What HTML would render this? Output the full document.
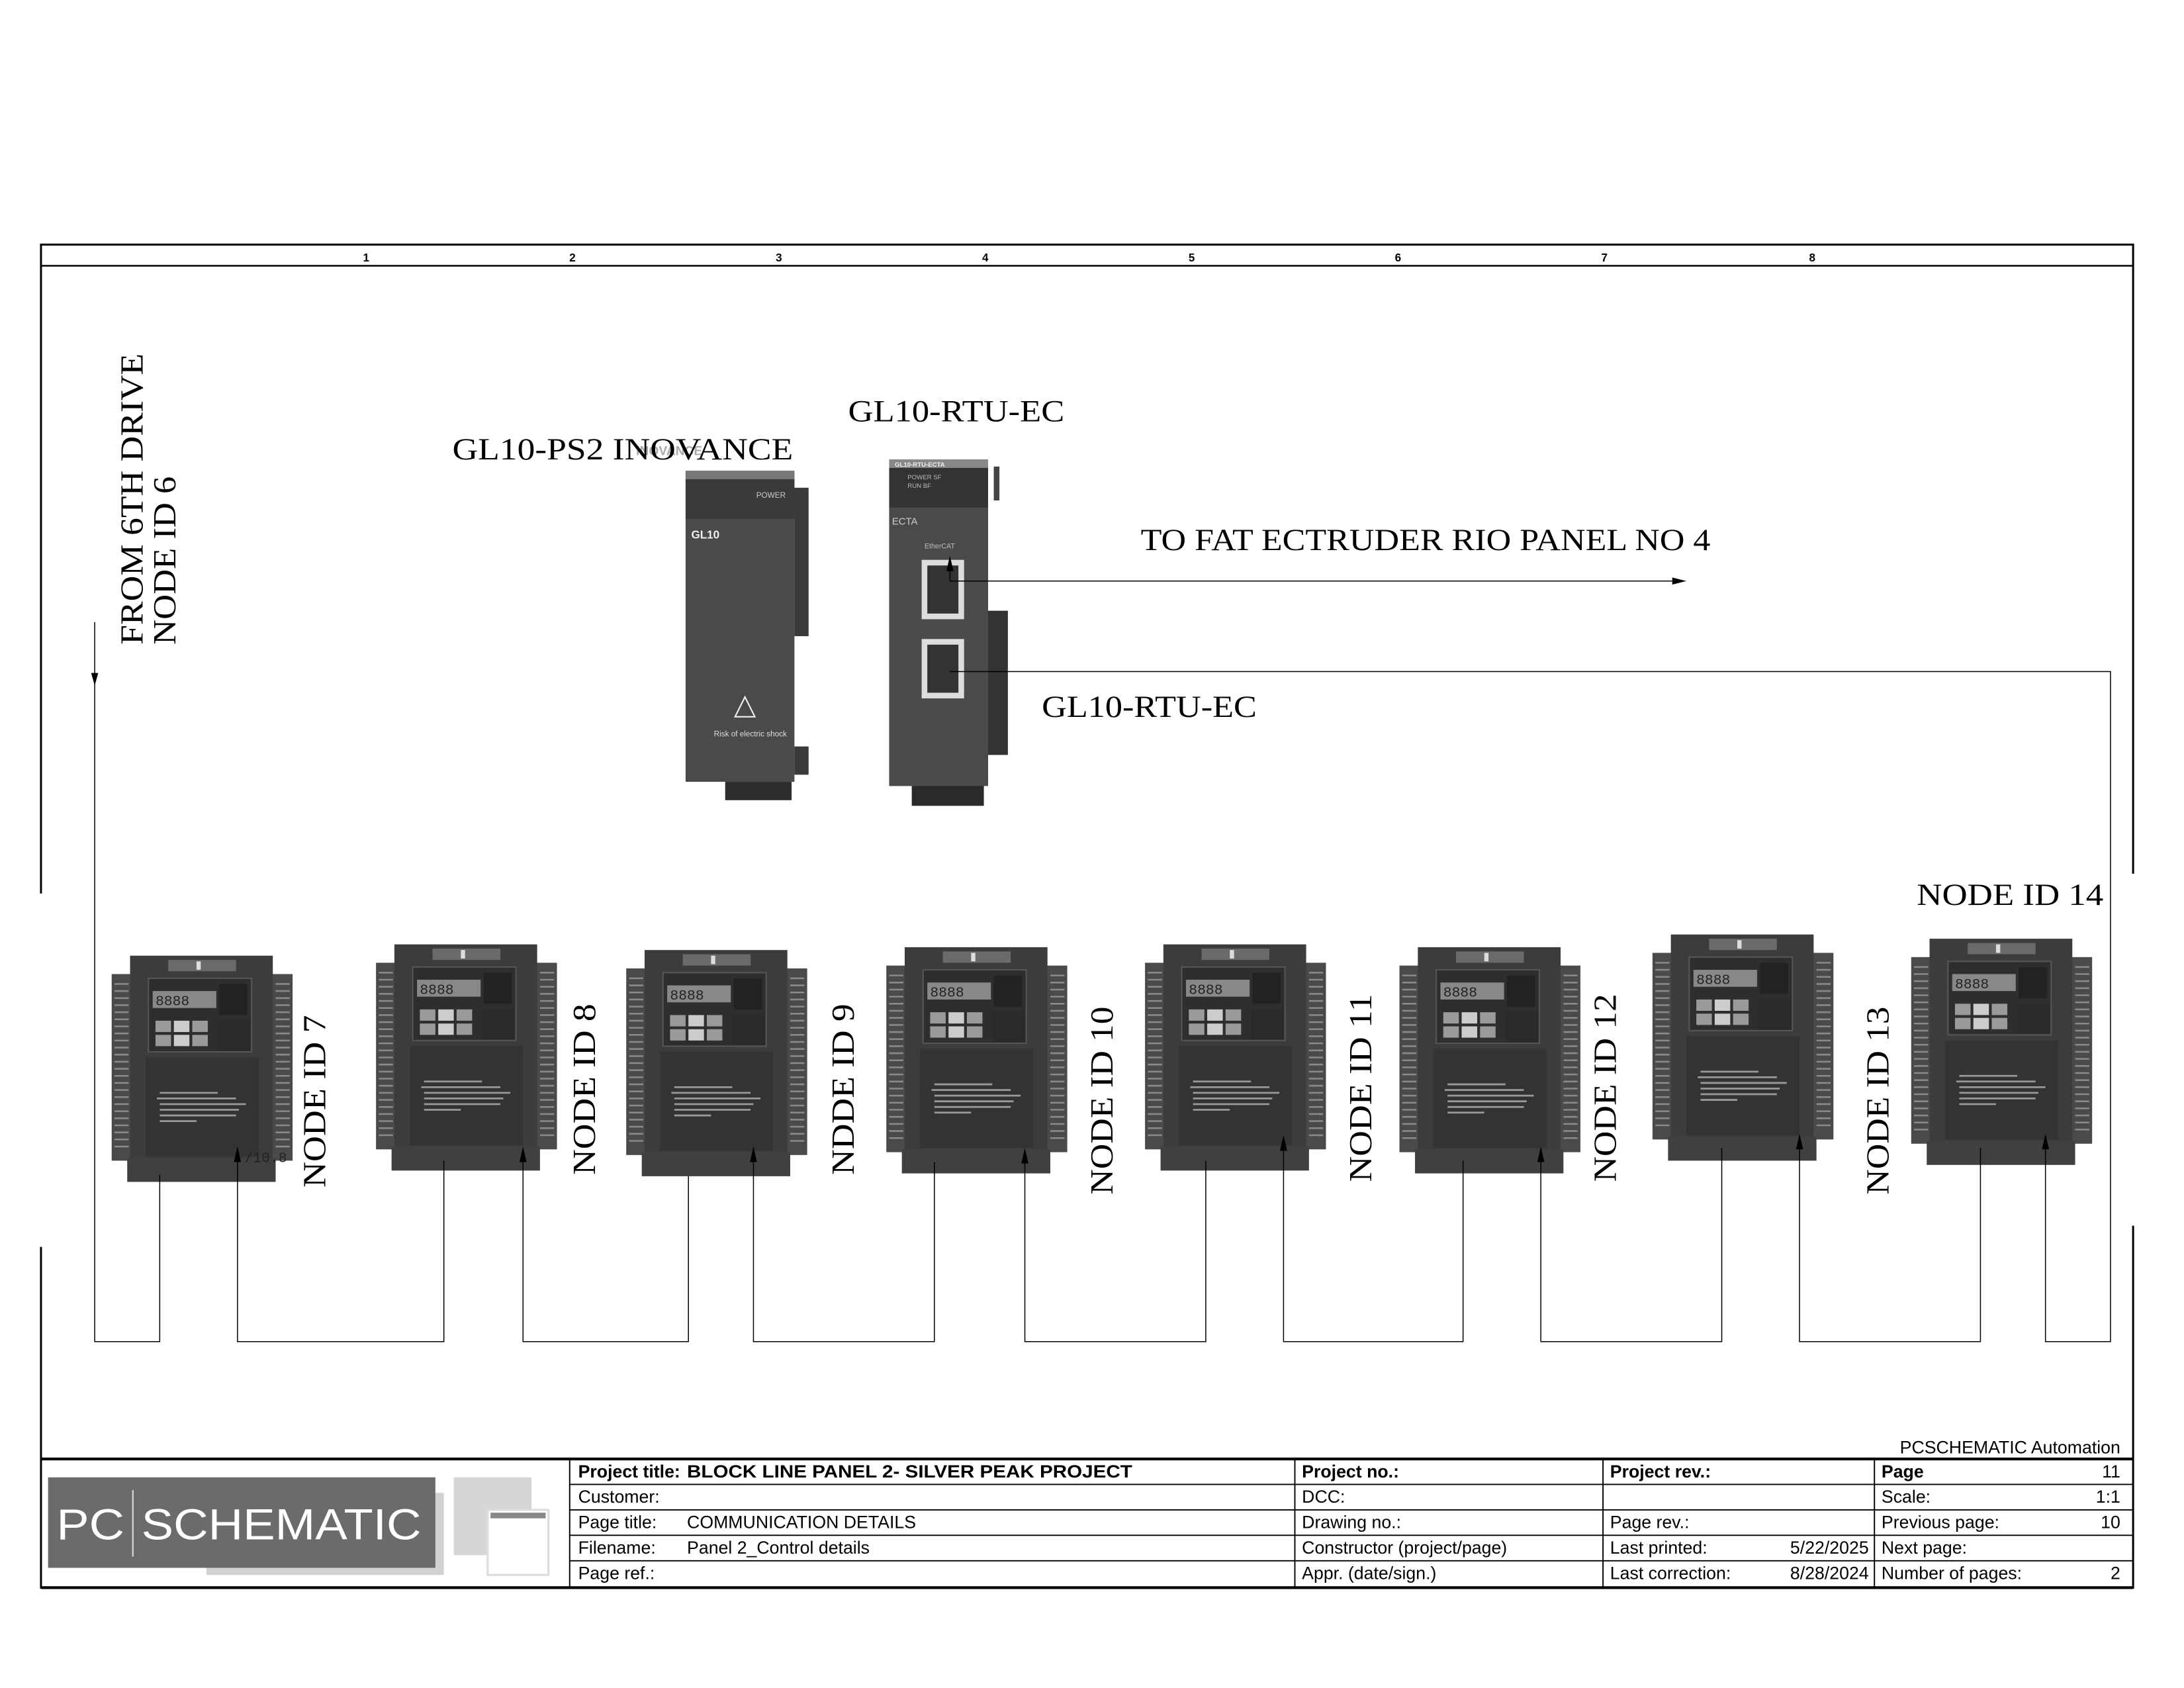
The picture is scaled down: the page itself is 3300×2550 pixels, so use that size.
<!DOCTYPE html>
<html><head><meta charset="utf-8"><style>
html,body{margin:0;padding:0;background:#fff}
svg{display:block}
.s{font-family:"Liberation Serif",serif;fill:#000}
.a{font-family:"Liberation Sans",sans-serif;fill:#000;font-size:12.5px}
.b{font-weight:bold}
</style></head><body>
<svg width="3300" height="2550" viewBox="0 0 1545 1194" preserveAspectRatio="none" xmlns="http://www.w3.org/2000/svg">
<defs>
<g id="drv">
  <rect x="0" y="13" width="128" height="132" fill="#4a4a4a"/>
  <g stroke="#8a8a8a" stroke-width="1.2">
    <path d="M2 20H12M2 25H12M2 30H12M2 35H12M2 40H12M2 45H12M2 50H12M2 55H12M2 60H12M2 65H12M2 70H12M2 75H12M2 80H12M2 85H12M2 90H12M2 95H12M2 100H12M2 105H12M2 110H12M2 115H12M2 120H12M2 125H12M2 130H12M2 135H12"/>
    <path d="M116 20H126M116 25H126M116 30H126M116 35H126M116 40H126M116 45H126M116 50H126M116 55H126M116 60H126M116 65H126M116 70H126M116 75H126M116 80H126M116 85H126M116 90H126M116 95H126M116 100H126M116 105H126M116 110H126M116 115H126M116 120H126M116 125H126M116 130H126M116 135H126"/>
  </g>
  <rect x="13" y="0" width="101" height="146" fill="#3c3c3c"/>
  <rect x="11" y="143" width="105" height="17" fill="#404040"/>
  <rect x="40" y="3" width="48" height="8" fill="#6a6a6a"/>
  <rect x="60" y="4" width="3" height="6" fill="#ddd"/>
  <rect x="26" y="16" width="73" height="52" fill="#2e2e2e" stroke="#555"/>
  <rect x="29" y="25" width="45" height="12" fill="#888"/>
  <text x="31" y="35" font-family="Liberation Mono,monospace" font-size="10" fill="#222">8888</text>
  <rect x="76" y="20" width="20" height="22" fill="#222"/>
  <rect x="31" y="46" width="11" height="8" fill="#9a9a9a"/><rect x="44" y="46" width="11" height="8" fill="#ccc"/><rect x="57" y="46" width="11" height="8" fill="#9a9a9a"/>
  <rect x="31" y="56" width="11" height="8" fill="#9a9a9a"/><rect x="44" y="56" width="11" height="8" fill="#ccc"/><rect x="57" y="56" width="11" height="8" fill="#9a9a9a"/>
  <rect x="75" y="46" width="23" height="21" fill="#2a2a2a"/>
  <rect x="24" y="72" width="80" height="70" fill="#333"/>
  <g stroke="#999" stroke-width="1.3">
    <path d="M34 97H75M32 101H88M34 105H95M34 109H90M34 113H88M34 117H60"/>
  </g>
</g>
</defs>

<!-- frame -->
<g fill="none" stroke="#000">
  <path d="M29 632V173H1509V618" stroke-width="1.4"/>
  <path d="M29 882V1123H1509V867" stroke-width="1.4"/>
  <line x1="29" y1="188" x2="1509" y2="188" stroke-width="1.2"/>
  <line x1="29" y1="1032" x2="1509" y2="1032" stroke-width="2"/>
  <line x1="29" y1="1123" x2="1509" y2="1123" stroke-width="2"/>
  <g stroke-width="0.9">
    <line x1="403" y1="1050" x2="1509" y2="1050"/>
    <line x1="403" y1="1068" x2="1509" y2="1068"/>
    <line x1="403" y1="1086" x2="1509" y2="1086"/>
    <line x1="403" y1="1104" x2="1509" y2="1104"/>
    <line x1="403" y1="1032" x2="403" y2="1123"/>
    <line x1="916" y1="1032" x2="916" y2="1123"/>
    <line x1="1134" y1="1032" x2="1134" y2="1123"/>
    <line x1="1326" y1="1032" x2="1326" y2="1123"/>
  </g>
</g>
<g font-family="Liberation Sans,sans-serif" font-size="8" font-weight="bold" text-anchor="middle">
  <text x="259" y="185">1</text><text x="405" y="185">2</text><text x="551" y="185">3</text><text x="697" y="185">4</text>
  <text x="843" y="185">5</text><text x="989" y="185">6</text><text x="1135" y="185">7</text><text x="1282" y="185">8</text>
</g>

<!-- title block -->
<rect x="146" y="1056" width="168" height="58" fill="#d2d2d2"/>
<rect x="321" y="1045" width="55" height="55" fill="#d6d6d6"/>
<rect x="345" y="1068" width="43" height="46" fill="#fff" stroke="#ddd" stroke-width="1.5"/>
<rect x="347" y="1070" width="39" height="4" fill="#888"/>
<rect x="34" y="1045" width="274" height="64" fill="#6b6b6b"/>
<line x1="94" y1="1054" x2="94" y2="1101" stroke="#ddd" stroke-width="1"/>
<text x="40" y="1089" font-family="Liberation Sans,sans-serif" font-size="31" fill="#fff" textLength="48" lengthAdjust="spacingAndGlyphs">PC</text>
<text x="100" y="1089" font-family="Liberation Sans,sans-serif" font-size="31" fill="#fff" textLength="198" lengthAdjust="spacingAndGlyphs">SCHEMATIC</text>

<text class="a" x="1500" y="1028" text-anchor="end">PCSCHEMATIC Automation</text>
<text class="a b" x="409" y="1045">Project title:</text>
<text class="a b" x="486" y="1045" textLength="315" lengthAdjust="spacingAndGlyphs">BLOCK LINE PANEL 2- SILVER PEAK PROJECT</text>
<text class="a b" x="921" y="1045">Project no.:</text>
<text class="a b" x="1139" y="1045">Project rev.:</text>
<text class="a b" x="1331" y="1045">Page</text>
<text class="a" x="1500" y="1045" text-anchor="end">11</text>
<text class="a" x="409" y="1063">Customer:</text>
<text class="a" x="921" y="1063">DCC:</text>
<text class="a" x="1331" y="1063">Scale:</text>
<text class="a" x="1500" y="1063" text-anchor="end">1:1</text>
<text class="a" x="409" y="1081">Page title:</text>
<text class="a" x="486" y="1081">COMMUNICATION DETAILS</text>
<text class="a" x="921" y="1081">Drawing no.:</text>
<text class="a" x="1139" y="1081">Page rev.:</text>
<text class="a" x="1331" y="1081">Previous page:</text>
<text class="a" x="1500" y="1081" text-anchor="end">10</text>
<text class="a" x="409" y="1099">Filename:</text>
<text class="a" x="486" y="1099">Panel 2_Control details</text>
<text class="a" x="921" y="1099">Constructor (project/page)</text>
<text class="a" x="1139" y="1099">Last printed:</text>
<text class="a" x="1322" y="1099" text-anchor="end">5/22/2025</text>
<text class="a" x="1331" y="1099">Next page:</text>
<text class="a" x="409" y="1117">Page ref.:</text>
<text class="a" x="921" y="1117">Appr. (date/sign.)</text>
<text class="a" x="1139" y="1117">Last correction:</text>
<text class="a" x="1322" y="1117" text-anchor="end">8/28/2024</text>
<text class="a" x="1331" y="1117">Number of pages:</text>
<text class="a" x="1500" y="1117" text-anchor="end">2</text>

<!-- PS2 module -->
<rect x="562" y="345" width="10" height="105" fill="#3a3a3a"/>
<rect x="562" y="528" width="10" height="20" fill="#3a3a3a"/>
<rect x="513" y="553" width="47" height="13" fill="#2e2e2e"/>
<rect x="485" y="333" width="77" height="220" fill="#4a4a4a"/>
<rect x="485" y="333" width="77" height="6" fill="#777"/>
<rect x="485" y="339" width="77" height="28" fill="#3a3a3a"/>
<text x="535" y="352" font-family="Liberation Sans,sans-serif" font-size="5.5" fill="#ccc">POWER</text>
<text x="489" y="381" font-family="Liberation Sans,sans-serif" font-size="8" font-weight="bold" fill="#eee">GL10</text>
<path d="M527 493L520 507H534Z" fill="none" stroke="#eee" stroke-width="1"/>
<text x="505" y="521" font-family="Liberation Sans,sans-serif" font-size="5.5" fill="#ddd">Risk of electric shock</text>
<text x="450" y="322" font-family="Liberation Sans,sans-serif" font-size="9" font-weight="bold" fill="#aaa">INOVANCE</text>

<!-- RTU module -->
<rect x="699" y="432" width="14" height="102" fill="#333"/>
<rect x="703" y="330" width="4" height="24" fill="#444"/>
<rect x="645" y="554" width="51" height="16" fill="#2a2a2a"/>
<rect x="629" y="325" width="70" height="231" fill="#4a4a4a"/>
<rect x="629" y="325" width="70" height="6" fill="#888"/>
<rect x="629" y="331" width="70" height="28" fill="#333"/>
<text x="633" y="330" font-family="Liberation Sans,sans-serif" font-size="4.5" font-weight="bold" fill="#eee">GL10-RTU-ECTA</text>
<text x="642" y="339" font-family="Liberation Sans,sans-serif" font-size="4.5" fill="#bbb">POWER  SF</text>
<text x="642" y="345" font-family="Liberation Sans,sans-serif" font-size="4.5" fill="#bbb">RUN    BF</text>
<text x="631" y="371" font-family="Liberation Sans,sans-serif" font-size="7" fill="#ccc">ECTA</text>
<text x="654" y="388" font-family="Liberation Sans,sans-serif" font-size="5" fill="#bbb">EtherCAT</text>
<rect x="652" y="396" width="30" height="42" fill="#ddd"/>
<rect x="656" y="400" width="22" height="34" fill="#333"/>
<rect x="652" y="452" width="30" height="42" fill="#ddd"/>
<rect x="656" y="456" width="22" height="34" fill="#333"/>

<!-- labels -->
<text class="s" x="320" y="325" font-size="22" textLength="241" lengthAdjust="spacingAndGlyphs">GL10-PS2  INOVANCE</text>
<text class="s" x="600" y="298" font-size="22" textLength="153" lengthAdjust="spacingAndGlyphs">GL10-RTU-EC</text>
<text class="s" x="807" y="389" font-size="22" textLength="403" lengthAdjust="spacingAndGlyphs">TO FAT ECTRUDER RIO PANEL NO 4</text>
<text class="s" x="737" y="507" font-size="22" textLength="152" lengthAdjust="spacingAndGlyphs">GL10-RTU-EC</text>
<text class="s" x="1356" y="640" font-size="22" textLength="132" lengthAdjust="spacingAndGlyphs">NODE ID 14</text>

<!-- drives -->
<use href="#drv" x="79" y="676"/>
<use href="#drv" x="266" y="668"/>
<use href="#drv" x="443" y="672"/>
<use href="#drv" x="627" y="670"/>
<use href="#drv" x="810" y="668"/>
<use href="#drv" x="990" y="670"/>
<use href="#drv" x="1169" y="661"/>
<use href="#drv" x="1352" y="664"/>

<text x="173" y="822" font-family="Liberation Mono,monospace" font-size="10" fill="#222">/10.8</text>

<!-- vertical labels -->
<g class="s" font-size="23">
<text transform="translate(230,840) rotate(-90)" textLength="122" lengthAdjust="spacingAndGlyphs">NODE ID 7</text>
<text transform="translate(421,831) rotate(-90)" textLength="121" lengthAdjust="spacingAndGlyphs">NODE ID 8</text>
<text transform="translate(604,831) rotate(-90)" textLength="121" lengthAdjust="spacingAndGlyphs">NDDE ID 9</text>
<text transform="translate(787,845) rotate(-90)" textLength="133" lengthAdjust="spacingAndGlyphs">NODE ID 10</text>
<text transform="translate(970,836) rotate(-90)" textLength="133" lengthAdjust="spacingAndGlyphs">NODE ID 11</text>
<text transform="translate(1143,836) rotate(-90)" textLength="133" lengthAdjust="spacingAndGlyphs">NODE ID 12</text>
<text transform="translate(1336,845) rotate(-90)" textLength="133" lengthAdjust="spacingAndGlyphs">NODE ID 13</text>
<text transform="translate(101,456) rotate(-90)" textLength="206" lengthAdjust="spacingAndGlyphs">FROM 6TH  DRIVE</text>
<text transform="translate(124,456) rotate(-90)" textLength="119" lengthAdjust="spacingAndGlyphs">NODE ID 6</text>
</g>

<!-- wires -->
<g fill="none" stroke="#000" stroke-width="0.7">
  <path d="M67 440V949H113V831"/>
  <path d="M168 813V949H314V821"/>
  <path d="M370 813V949H487V832"/>
  <path d="M533 813V949H661V822"/>
  <path d="M725 814V949H853V821"/>
  <path d="M908 805V949H1035V821"/>
  <path d="M1090 813V949H1218V812"/>
  <path d="M1273 804V949H1401V812"/>
  <path d="M1447 804V949H1493V475H672"/>
  <path d="M672 396V411H1186"/>
</g>
<g fill="#000">
  <path d="M67 485L64.5 476H69.5Z"/>
  <path d="M168 811L165.5 822H170.5Z"/>
  <path d="M370 811L367.5 822H372.5Z"/>
  <path d="M533 811L530.5 822H535.5Z"/>
  <path d="M725 812L722.5 823H727.5Z"/>
  <path d="M908 803L905.5 814H910.5Z"/>
  <path d="M1090 811L1087.5 822H1092.5Z"/>
  <path d="M1273 802L1270.5 813H1275.5Z"/>
  <path d="M1447 802L1444.5 813H1449.5Z"/>
  <path d="M672 393L669.5 404H674.5Z"/>
  <path d="M1193 411L1183 408.5V413.5Z"/>
</g>
</svg>
</body></html>
